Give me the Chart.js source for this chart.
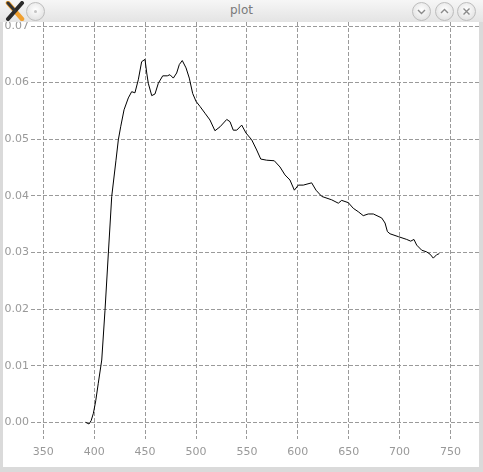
<!DOCTYPE html>
<html>
<head>
<meta charset="utf-8">
<script src="https://cdn.jsdelivr.net/npm/chart.js@4/dist/chart.umd.min.js"></script>
<style>
  html, body { margin: 0; padding: 0; background: #fff; overflow: hidden; }
  body { width: 483px; height: 472px; position: relative; }
  #wrap { position: absolute; left: 0; top: 0; width: 479px; height: 467px; }
  #titlebar { position: absolute; left: 0; top: 0; width: 483px; height: 22px;
    background: linear-gradient(#f6f6f6, #e4e4e4); z-index: 5; }
  #title { position: absolute; left: 0; width: 483px; top: 3px; text-align: center;
    font: 12px "DejaVu Sans", sans-serif; color: #7a7a7a; }
  .btn { position: absolute; top: 2px; width: 17px; height: 17px; border-radius: 50%;
    border: 1px solid #bdbdbd; background: radial-gradient(circle at 50% 40%, #ffffff, #dadada); }
  .fr { position: absolute; background: #dadada; z-index: 5; }
</style>
</head>
<body>
<div id="wrap"><canvas id="c"></canvas></div>
<div id="titlebar">
  <svg style="position:absolute;left:5px;top:1px" width="20" height="20" viewBox="0 0 20 20">
    <path d="M3 2 L17 18" stroke="#f0a030" stroke-width="4.5" stroke-linecap="round"/>
    <path d="M17 2 L3 18" stroke="#2a2a2a" stroke-width="4" stroke-linecap="round"/>
    <path d="M3 2 L10 10" stroke="#333" stroke-width="3" stroke-linecap="round"/>
  </svg>
  <div class="btn" style="left:26px"><div style="position:absolute;left:7px;top:7px;width:3px;height:3px;border-radius:50%;background:#c4c4c4"></div></div>
  <div id="title">plot</div>
  <div class="btn" style="left:412px">
    <svg width="17" height="17" viewBox="0 0 17 17" style="position:absolute;left:0;top:0"><path d="M5 7 L8.5 10.5 L12 7" stroke="#8a8a8a" stroke-width="1.4" fill="none"/></svg>
  </div>
  <div class="btn" style="left:435px">
    <svg width="17" height="17" viewBox="0 0 17 17" style="position:absolute;left:0;top:0"><path d="M5 10 L8.5 6.5 L12 10" stroke="#8a8a8a" stroke-width="1.4" fill="none"/></svg>
  </div>
  <div class="btn" style="left:457px">
    <svg width="17" height="17" viewBox="0 0 17 17" style="position:absolute;left:0;top:0"><path d="M5.5 5.5 L11.5 11.5 M11.5 5.5 L5.5 11.5" stroke="#8a8a8a" stroke-width="1.4" fill="none"/></svg>
  </div>
</div>
<div class="fr" style="left:0;top:22px;width:3px;height:450px"></div>
<div class="fr" style="left:479px;top:22px;width:4px;height:450px"></div>
<div class="fr" style="left:0;top:467px;width:483px;height:5px"></div>
<script>
// Wavelength (x) and value (y)
const xValues = [391.5, 394.9, 397.0, 399.2, 401.5, 404.0, 407.4, 410.6, 413.9, 417.2, 421.4, 423.7,
  426.0, 429.3, 433.5, 436.8, 440.0, 443.3, 446.6, 449.9, 451.6, 453.1,
  456.5, 459.7, 463.0, 467.3, 471.8, 474.4, 477.7, 481.0, 483.6, 486.5,
  490.2, 493.4, 496.7, 500.0, 503.9, 508.8, 513.7, 518.6, 523.6, 530.2,
  533.4, 536.6, 540.0, 544.9, 549.1, 554.7, 559.6, 563.6, 569.4, 576.9,
  582.5, 587.4, 592.3, 596.6, 600.5, 605.4, 613.6, 617.9, 623.5, 633.3,
  639.8, 643.1, 649.6, 654.5, 659.4, 664.3, 669.2, 674.2, 682.4, 685.7,
  688.0, 690.6, 698.7, 707.0, 710.9, 714.1, 716.8, 721.7, 726.6, 729.9,
  733.1, 736.4, 739.0];
const yValues = [0.0000, -0.0003, 0.0003, 0.0016, 0.0038, 0.0069, 0.0110, 0.0198, 0.0299, 0.0399, 0.0463, 0.0499,
  0.0522, 0.0552, 0.0573, 0.0584, 0.0582, 0.0605, 0.0637, 0.0641, 0.0617, 0.0599,
  0.0577, 0.0580, 0.0599, 0.0612, 0.0612, 0.0614, 0.0608, 0.0617, 0.0632, 0.0639,
  0.0626, 0.0608, 0.0581, 0.0567, 0.0558, 0.0546, 0.0534, 0.0515, 0.0522, 0.0535,
  0.0531, 0.0516, 0.0516, 0.0525, 0.0511, 0.0499, 0.0481, 0.0465, 0.0463, 0.0462,
  0.0451, 0.0437, 0.0428, 0.0410, 0.0419, 0.0419, 0.0423, 0.0410, 0.0399, 0.0393,
  0.0387, 0.0392, 0.0388, 0.0378, 0.0372, 0.0365, 0.0368, 0.0368, 0.0361, 0.0352,
  0.0337, 0.0333, 0.0328, 0.0323, 0.0320, 0.0323, 0.0313, 0.0304, 0.0301, 0.0297,
  0.0290, 0.0296, 0.0298];
const xTicks = [350, 400, 450, 500, 550, 600, 650, 700, 750];
const yTicks = [0.00, 0.01, 0.02, 0.03, 0.04, 0.05, 0.06, 0.07];

const points = xValues.map((x, i) => ({x: x, y: yValues[i]}));
const tickFont = {family: "DejaVu Sans", size: 11};
const gridCommon = {color: '#9a9a9a', lineWidth: 1, drawTicks: false, borderDash: [4, 2]};

new Chart(document.getElementById('c'), {
  type: 'line',
  data: { datasets: [{
    data: points, borderColor: '#000', borderWidth: 1, pointRadius: 0,
    tension: 0, fill: false }] },
  options: {
    responsive: true, maintainAspectRatio: false, animation: false,
    devicePixelRatio: 1,
    layout: { padding: { top: 22, left: 0, right: 0, bottom: 0 } },
    plugins: { legend: { display: false }, tooltip: { enabled: false } },
    scales: {
      x: {
        type: 'linear', min: 337.9, max: 778,
        afterBuildTicks: s => { s.ticks = xTicks.map(v => ({value: v})); },
        afterFit: s => { s.height = 28; },
        ticks: { font: tickFont, color: '#999', padding: 7, maxRotation: 0, autoSkip: false,
          callback: v => String(v) },
        grid: gridCommon,
        border: { display: false, dash: [4, 2] }
      },
      y: {
        type: 'linear', min: -0.00295, max: 0.07071,
        afterBuildTicks: s => { s.ticks = yTicks.map(v => ({value: v})); },
        afterFit: s => { s.width = 31; },
        ticks: { font: tickFont, color: '#999', padding: 2, autoSkip: false,
          callback: v => Number(v).toFixed(2) },
        grid: gridCommon,
        border: { display: false, dash: [4, 2] }
      }
    }
  }
});
</script>
</body>
</html>
